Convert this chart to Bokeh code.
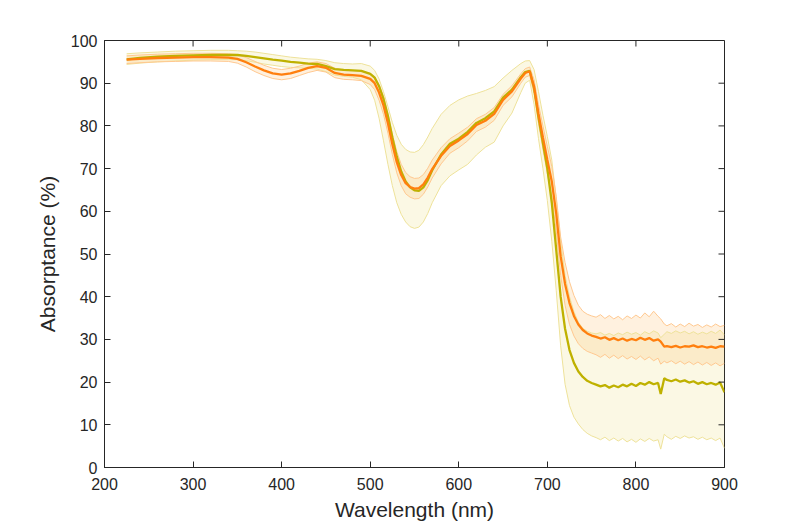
import pandas as pd
from bokeh.plotting import figure
from bokeh.models import ColumnDataSource, FixedTicker, Range1d
from bokeh.embed import file_html
from bokeh.resources import INLINE

wavelength = [225, 240, 260, 280, 300, 320, 340, 350, 360, 370, 380, 390, 400, 410, 420, 430, 440, 450, 460, 470,
              480, 490, 500, 505, 510, 515, 520, 525, 530, 535, 540, 545, 550, 555, 560, 565, 570, 580, 590, 600,
              610, 620, 630, 640, 650, 660, 670, 675, 680, 685, 690, 695, 700, 705, 710, 715, 720, 725, 730, 735,
              740, 745, 750, 755, 760, 765, 770, 775, 780, 785, 790, 795, 800, 805, 810, 815, 820, 825, 828, 832,
              835, 840, 845, 850, 855, 860, 865, 870, 875, 880, 885, 890, 895, 900]

olive_mean = [95.6, 95.9, 96.2, 96.4, 96.5, 96.6, 96.6, 96.6, 96.4, 96.1, 95.8, 95.5, 95.3, 95.0, 94.8, 94.6, 94.5, 94.0, 93.3, 93.1,
              93.0, 92.9, 92.2, 91.3, 89.3, 86.3, 82.3, 77.3, 72.8, 69.3, 67.0, 65.6, 64.9, 64.8, 65.6, 67.3, 69.6, 73.3, 75.8, 77.0,
              78.6, 80.7, 81.8, 83.4, 86.6, 88.5, 91.4, 92.6, 92.9, 88.8, 82.0, 76.0, 70.0, 62.0, 51.0, 40.0, 32.5, 27.5, 24.5, 22.5,
              21.2, 20.3, 19.8, 19.4, 19.0, 19.3, 18.7, 19.2, 18.8, 19.4, 19.0, 19.6, 19.1, 19.8, 19.4, 20.0, 19.5, 19.8, 17.2, 20.9,
              20.5, 20.2, 20.6, 20.1, 20.4, 19.9, 20.2, 19.6, 20.0, 19.5, 19.8, 19.4, 19.9, 17.6]
olive_upper = [96.9, 97.1, 97.3, 97.5, 97.6, 97.7, 97.7, 97.6, 97.5, 97.3, 97.0, 96.7, 96.4, 96.1, 95.9, 95.7, 95.6, 95.3, 94.8, 94.6,
               94.5, 94.6, 94.0, 93.0, 91.0, 88.0, 84.5, 80.8, 77.8, 75.7, 74.5, 73.9, 73.8, 74.3, 75.6, 77.4, 79.4, 82.7, 84.8, 86.1,
               87.0, 87.6, 88.3, 89.2, 91.2, 93.0, 94.6, 95.2, 95.3, 93.2, 88.0, 82.5, 77.5, 72.0, 63.0, 53.0, 45.0, 40.0, 36.5, 34.0,
               32.6, 31.9, 31.5, 31.3, 31.6, 31.0, 31.4, 30.9, 31.5, 31.1, 31.7, 31.2, 31.6, 31.0, 31.8, 31.3, 32.0, 31.5, 30.4, 31.2,
               31.8, 31.4, 32.0, 31.5, 31.9, 31.3, 31.8, 31.2, 31.7, 31.3, 31.9, 31.4, 32.2, 31.0]
olive_lower = [94.4, 94.7, 95.0, 95.2, 95.4, 95.5, 95.5, 95.5, 95.3, 94.9, 94.5, 94.2, 93.9, 93.7, 93.6, 93.5, 93.3, 92.7, 91.9, 91.6,
               91.4, 90.8, 88.5, 86.0, 81.8, 76.5, 71.0, 66.0, 62.0, 59.3, 57.5, 56.4, 56.0, 56.3, 57.5, 59.5, 62.0, 66.0, 68.3, 69.7,
               71.0, 73.2, 75.0, 76.2, 80.0, 83.0, 87.8, 90.0, 90.7, 85.0, 77.0, 70.0, 62.5, 53.0, 41.5, 28.5, 19.5, 14.5, 11.8, 10.2,
               8.9, 8.0, 7.4, 7.0, 6.5, 7.1, 6.3, 6.9, 6.2, 6.8, 6.0, 6.6, 5.9, 6.7, 6.1, 6.8, 6.2, 6.5, 4.3, 7.8,
               7.2, 6.6, 7.3, 6.8, 7.4, 6.9, 7.2, 6.6, 7.1, 6.5, 6.9, 6.3, 6.9, 4.5]

orange_mean = [95.5, 95.7, 95.9, 96.0, 96.1, 96.1, 96.0, 95.7, 94.9, 93.9, 93.0, 92.3, 92.0, 92.3, 92.9, 93.6, 94.0, 93.6, 92.4, 92.0,
               91.9, 91.7, 91.0, 90.0, 87.8, 84.8, 80.6, 75.7, 71.5, 68.5, 66.6, 65.7, 65.3, 65.4, 66.3, 67.9, 69.9, 73.0, 75.3, 76.6,
               78.1, 80.2, 81.2, 82.8, 86.1, 88.1, 91.1, 92.4, 92.8, 89.2, 82.8, 77.3, 72.0, 67.0, 59.5, 49.5, 43.0, 38.5, 35.5, 33.5,
               32.2, 31.4, 30.9, 30.6, 30.2, 30.5, 29.9, 30.3, 29.8, 30.2, 29.7, 30.1, 29.8, 30.4, 29.9, 30.3, 29.7, 30.0, 29.5, 28.3,
               28.4, 28.2, 28.5, 28.1, 28.4, 28.3, 28.6, 28.2, 28.4, 28.1, 28.3, 28.0, 28.4, 28.3]
orange_upper = [96.4, 96.6, 96.8, 96.9, 97.0, 97.0, 96.9, 96.7, 96.0, 95.1, 94.2, 93.5, 93.2, 93.5, 94.0, 94.7, 95.0, 94.6, 93.5, 93.1,
                93.0, 92.8, 92.3, 91.5, 89.6, 86.9, 82.9, 78.1, 74.0, 71.0, 69.1, 68.1, 67.7, 67.8, 68.6, 70.1, 72.0, 74.9, 77.0, 78.3,
                79.7, 81.7, 82.7, 84.3, 87.4, 89.4, 92.2, 93.4, 93.8, 90.8, 85.0, 80.0, 75.2, 70.5, 63.5, 54.0, 48.0, 43.5, 40.3, 38.0,
                36.6, 35.9, 35.5, 35.2, 35.8, 34.9, 35.6, 34.8, 35.4, 34.6, 35.5, 34.9, 35.7, 35.0, 36.2, 35.3, 36.6, 35.4, 34.8, 33.6,
                33.2, 33.7, 32.9, 33.6, 33.0, 33.8, 33.1, 33.5, 32.8, 33.4, 32.9, 33.6, 33.0, 33.3]
orange_lower = [94.6, 94.8, 95.0, 95.1, 95.2, 95.2, 95.1, 94.7, 93.8, 92.7, 91.8, 91.1, 90.8, 91.1, 91.8, 92.5, 93.0, 92.6, 91.3, 90.9,
                90.8, 90.6, 89.7, 88.5, 86.0, 82.7, 78.3, 73.3, 69.0, 66.0, 64.1, 63.3, 62.9, 63.0, 64.0, 65.7, 67.8, 71.1, 73.6, 74.9,
                76.5, 78.7, 79.7, 81.3, 84.8, 86.8, 90.0, 91.4, 91.8, 87.6, 80.6, 74.6, 68.8, 63.5, 55.5, 45.0, 38.0, 33.5, 30.8, 29.0,
                27.9, 27.2, 26.8, 26.4, 25.8, 26.5, 25.6, 26.3, 25.5, 26.2, 25.4, 26.0, 25.3, 26.1, 25.2, 25.9, 25.0, 25.6, 24.2, 24.9,
                24.5, 25.0, 24.3, 24.9, 24.2, 24.8, 24.1, 24.7, 24.0, 24.6, 23.9, 24.5, 23.8, 24.4]

x_ticks = [200, 300, 400, 500, 600, 700, 800, 900]
y_ticks = [0, 10, 20, 30, 40, 50, 60, 70, 80, 90, 100]

X_MIN, X_MAX = 200, 900
Y_MIN, Y_MAX = 0, 100

df = pd.DataFrame({
    "wl": wavelength,
    "om": olive_mean, "ou": olive_upper, "ol": olive_lower,
    "rm": orange_mean, "ru": orange_upper, "rl": orange_lower,
})
src = ColumnDataSource(df)

FONT = "Liberation Sans"
AX = "#262626"
FRAME_W, FRAME_H = 620, 427
TICK_PX = 6

p = figure(width=800, height=526, x_range=Range1d(X_MIN, X_MAX), y_range=Range1d(Y_MIN, Y_MAX),
           output_backend="svg", toolbar_location=None,
           min_border_left=104, min_border_right=76, min_border_top=40, min_border_bottom=59)
p.xgrid.visible = False
p.ygrid.visible = False
p.outline_line_color = AX
p.outline_line_width = 1
p.background_fill_color = "white"
p.border_fill_color = "white"

# olive band
p.varea(x="wl", y1="ol", y2="ou", source=src, fill_color="#EEDF85", fill_alpha=0.22)
# orange band
p.varea(x="wl", y1="rl", y2="ru", source=src, fill_color="#FFB050", fill_alpha=0.18)
# band edges
p.line(x="wl", y="ou", source=src, line_color="#EEE29A", line_width=1)
p.line(x="wl", y="ol", source=src, line_color="#EEE29A", line_width=1)
p.line(x="wl", y="ru", source=src, line_color="#FFC890", line_width=1)
p.line(x="wl", y="rl", source=src, line_color="#FFC890", line_width=1)
# mean lines
p.line(x="wl", y="om", source=src, line_color="#BFB100", line_width=2.3)
p.line(x="wl", y="rm", source=src, line_color="#FF7F0E", line_width=2.3)

for ax in (p.xaxis[0], p.yaxis[0]):
    ax.axis_line_color = AX
    ax.axis_line_width = 1
    ax.major_tick_line_color = AX
    ax.major_tick_in = TICK_PX
    ax.major_tick_out = 0
    ax.minor_tick_line_color = None
    ax.major_label_text_font = FONT
    ax.major_label_text_color = AX
    ax.major_label_text_font_size = "16px"
    ax.axis_label_text_font = FONT
    ax.axis_label_text_font_style = "normal"
    ax.axis_label_text_color = AX
    ax.axis_label_text_font_size = "21px"

p.xaxis.ticker = FixedTicker(ticks=x_ticks)
p.yaxis.ticker = FixedTicker(ticks=y_ticks)
p.xaxis.axis_label = "Wavelength (nm)"
p.yaxis.axis_label = "Absorptance (%)"
p.xaxis.major_label_standoff = 10
p.xaxis.axis_label_standoff = 5
p.yaxis.major_label_standoff = 7
p.yaxis.axis_label_standoff = 9

# inward ticks on the top and right edges of the box (MATLAB "box on")
dx_tick = TICK_PX * (X_MAX - X_MIN) / FRAME_W
dy_tick = TICK_PX * (Y_MAX - Y_MIN) / FRAME_H
p.segment(x0=x_ticks, y0=[Y_MAX] * len(x_ticks), x1=x_ticks, y1=[Y_MAX - dy_tick] * len(x_ticks),
          line_color=AX, line_width=1)
p.segment(x0=[X_MAX] * len(y_ticks), y0=y_ticks, x1=[X_MAX - dx_tick] * len(y_ticks), y1=y_ticks,
          line_color=AX, line_width=1)

open("out.html", "w").write(file_html(p, INLINE))
